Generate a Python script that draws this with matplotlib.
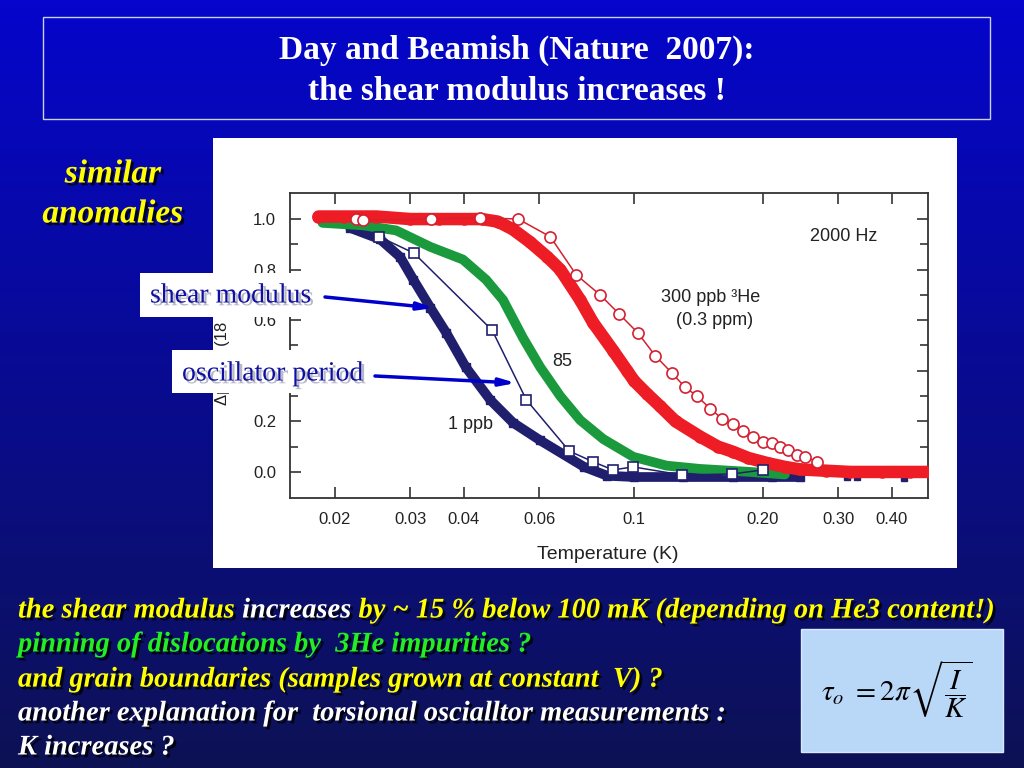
"""
Slide: Day and Beamish (Nature 2007) shear modulus anomaly
"""
import numpy as np
import matplotlib
matplotlib.use("Agg")
import matplotlib.pyplot as plt
import matplotlib.patheffects as pe
from matplotlib.patches import Rectangle

plt.rcParams['mathtext.fontset'] = 'stix'

#Data (temperature in K, normalised change)
red_T = [0.0183, 0.021, 0.025, 0.030, 0.035, 0.040, 0.044, 0.048, 0.052, 0.057,
         0.0627, 0.0672, 0.0748, 0.0802, 0.0893, 0.0963, 0.100, 0.107, 0.115, 0.125,
         0.1425, 0.157, 0.170, 0.185, 0.205, 0.225, 0.244, 0.28, 0.32, 0.38, 0.44, 0.49]
red_y = [1.01, 1.01, 1.01, 1.00, 1.00, 1.00, 1.00, 0.99, 0.96, 0.91,
         0.85, 0.80, 0.68, 0.59, 0.48, 0.40, 0.36, 0.31, 0.26, 0.20,
         0.14, 0.10, 0.08, 0.055, 0.035, 0.02, 0.01, 0.005, 0.0, 0.0, 0.0, 0.0]

green_T = [0.0187, 0.0233, 0.0278, 0.0334, 0.0398, 0.0451, 0.0494, 0.055, 0.0603,
           0.0672, 0.0748, 0.0847, 0.0995, 0.119, 0.1425, 0.187, 0.225]
green_y = [0.985, 0.975, 0.955, 0.89, 0.84, 0.76, 0.68, 0.53, 0.415,
           0.30, 0.205, 0.13, 0.06, 0.025, 0.012, 0.0, -0.01]

navy_T = [0.0217, 0.0255, 0.0284, 0.0305, 0.0334, 0.0364, 0.0404, 0.0461, 0.0521,
          0.0603, 0.0764, 0.0865, 0.100, 0.130, 0.170, 0.210, 0.244]
navy_y = [0.965, 0.92, 0.85, 0.76, 0.65, 0.55, 0.415, 0.285, 0.195,
          0.125, 0.02, -0.015, -0.02, -0.02, -0.02, -0.02, -0.02]
navy_tail_T = [0.315, 0.332, 0.426]
navy_tail_y = [-0.02, -0.02, -0.025]

#Oscillator period curves (open symbols)
circ_T = [0.0224, 0.0233, 0.0336, 0.0436, 0.0536, 0.0637, 0.0732, 0.0833, 0.0922,
          0.102, 0.112, 0.1227, 0.1315, 0.1403, 0.1506, 0.1606, 0.170, 0.180,
          0.190, 0.200, 0.210, 0.219, 0.229, 0.240, 0.251, 0.268]
circ_y = [1.00, 0.995, 1.00, 1.005, 1.00, 0.93, 0.78, 0.70, 0.625,
          0.55, 0.46, 0.39, 0.335, 0.30, 0.25, 0.21, 0.19, 0.16,
          0.14, 0.12, 0.115, 0.10, 0.087, 0.067, 0.06, 0.04]

sq_T = [0.0254, 0.0306, 0.0466, 0.056, 0.0705, 0.0802, 0.0893, 0.0995, 0.1294, 0.1694, 0.200]
sq_y = [0.93, 0.865, 0.56, 0.285, 0.083, 0.04, 0.008, 0.02, -0.012, -0.008, 0.008]

x_ticks = [0.02, 0.03, 0.04, 0.06, 0.1, 0.2, 0.3, 0.4]
x_ticklabels = ['0.02', '0.03', '0.04', '0.06', '0.1', '0.20', '0.30', '0.40']
y_ticks = [0.0, 0.2, 0.4, 0.6, 0.8, 1.0]

RED = '#ee1c24'
GREEN = '#1a9a3c'
NAVY = '#1f1f6e'
SERIF = 'Liberation Serif'
SANS = 'Liberation Sans'

fig = plt.figure(figsize=(10.24, 7.68), dpi=100)

#Background: blue gradient, title frame, white picture panel, formula box
bg = fig.add_axes([0, 0, 1, 1], zorder=0)
grad = np.linspace(0, 1, 256)[:, None]
top = np.array([0.02, 0.02, 0.80])
bot = np.array([0.05, 0.07, 0.33])
img = top[None, None, :] * (1 - grad[:, :, None]) + bot[None, None, :] * grad[:, :, None]
bg.imshow(img, aspect='auto', extent=(0, 1024, 768, 0))
bg.set_xlim(0, 1024)
bg.set_ylim(768, 0)
bg.axis('off')
bg.add_patch(Rectangle((43, 17), 947, 102, fill=False, ec='#c8d0f0', lw=1))
bg.add_patch(Rectangle((213, 138), 744, 430, fc='white', ec='none'))
bg.add_patch(Rectangle((801, 629), 202, 123, fc='#b9d7f7', ec='#d8e8ff', lw=1))

#The data plot
ax = fig.add_axes([290 / 1024, 1 - 498 / 768, 638 / 1024, 305 / 768], zorder=1)
ax.set_xscale('log')
ax.plot(navy_T, navy_y, color=NAVY, lw=7, marker='s', ms=6, solid_joinstyle='round',
        solid_capstyle='round', zorder=2)
ax.plot(navy_tail_T, navy_tail_y, ls='none', color=NAVY, marker='s', ms=5, zorder=2)
ax.plot(green_T, green_y, color=GREEN, lw=7, solid_joinstyle='round',
        solid_capstyle='round', zorder=3)
ax.plot(red_T, red_y, color=RED, lw=9, marker='o', ms=8, solid_joinstyle='round',
        solid_capstyle='round', zorder=4)
ax.plot(sq_T, sq_y, color=NAVY, lw=1.1, marker='s', ms=7, mfc='white', mec=NAVY,
        mew=1.2, zorder=5)
ax.plot(circ_T, circ_y, color='#d42030', lw=1.1, marker='o', ms=8, mfc='white',
        mec='#d42030', mew=1.2, zorder=6)

ax.set_xlim(0.0157, 0.486)
ax.set_ylim(-0.103, 1.103)
ax.set_xticks(x_ticks)
ax.set_xticklabels(x_ticklabels)
ax.minorticks_off()
ax.set_yticks(y_ticks)
ax.set_yticks(np.arange(0.1, 1.01, 0.2), minor=True)
ax.xaxis.set_minor_locator(matplotlib.ticker.NullLocator())
ax.tick_params(which='both', direction='in', top=True, right=True, color='#333333', width=1.2)
ax.tick_params(which='major', length=8, labelsize=12, labelcolor='#222222')
ax.tick_params(which='minor', length=6)
ax.tick_params(axis='x', pad=10)
ax.tick_params(axis='y', pad=10)
for lab in ax.get_xticklabels() + ax.get_yticklabels():
    lab.set_family(SANS)
for sp in ax.spines.values():
    sp.set_color('#333333')
    sp.set_linewidth(1.3)

ax.set_xlabel('Temperature (K)', family=SANS, fontsize=14, color='#222222')
ax.xaxis.set_label_coords(0.498, -0.158)
ax.set_ylabel('Δμ / Δμ (18 mK)', family=SANS, fontsize=12, color='#222222')
ax.yaxis.set_label_coords(-0.094, 0.5)

lab_kw = dict(family=SANS, fontsize=13, color='#222222', ha='center', va='center')
ax.text(0.308, 0.93, '2000 Hz', **lab_kw)
ax.text(0.151, 0.69, '300 ppb ³He', **lab_kw)
ax.text(0.154, 0.60, '(0.3 ppm)', **lab_kw)
ax.text(0.068, 0.435, '85', **lab_kw)
ax.text(0.0414, 0.186, '1 ppb', **lab_kw)

#Overlay in slide pixels: titles, labels, arrows, text
ov = fig.add_axes([0, 0, 1, 1], zorder=2)
ov.set_xlim(0, 1024)
ov.set_ylim(768, 0)
ov.axis('off')
ov.patch.set_alpha(0)

dark = [pe.withSimplePatchShadow(offset=(2, -2), shadow_rgbFace='black', alpha=0.8)]
light = [pe.withSimplePatchShadow(offset=(2, -2), shadow_rgbFace='#9a9ab0', alpha=0.7)]

ov.text(517, 50, 'Day and Beamish (Nature  2007):', family=SERIF, weight='bold',
        fontsize=24, color='white', ha='center', va='center')
ov.text(517, 92, 'the shear modulus increases !', family=SERIF, weight='bold',
        fontsize=24, color='white', ha='center', va='center')

for txt, y in [('similar', 174), ('anomalies', 214)]:
    ov.text(113, y, txt, family=SERIF, weight='bold', style='italic', fontsize=24,
            color='#ffff00', ha='center', va='center', path_effects=dark)

ov.add_patch(Rectangle((140, 273), 178, 44, fc='white', ec='none'))
ov.add_patch(Rectangle((172, 350), 198, 43, fc='white', ec='none'))
ov.text(150, 296, 'shear modulus', family=SERIF, fontsize=20, color='#1010a0',
        ha='left', va='center', path_effects=light)
ov.text(182, 374, 'oscillator period', family=SERIF, fontsize=20, color='#1010a0',
        ha='left', va='center', path_effects=light)
arrow = dict(arrowstyle='-|>,head_length=0.9,head_width=0.22', color='#0000cc',
             lw=2.5, shrinkA=0, shrinkB=0)
ov.annotate('', xy=(434, 308), xytext=(325, 297), arrowprops=arrow)
ov.annotate('', xy=(516, 383), xytext=(375, 376), arrowprops=arrow)

#Bottom lines
body = dict(family=SERIF, weight='bold', style='italic', fontsize=20.5, path_effects=dark)
prev = ov.text(18, 611, 'the shear modulus', color='#ffff00', va='center', **body)
for seg, col in [(' increases', 'white'),
                 (' by ~ 15 % below 100 mK (depending on He3 content!)', '#ffff00')]:
    prev = ov.annotate(seg, xy=(1, 0), xycoords=prev, ha='left', va='bottom',
                       color=col, **body)
ov.text(18, 645, 'pinning of dislocations by  3He impurities ?', color='#22ee22',
        va='center', **body)
ov.text(18, 680, 'and grain boundaries (samples grown at constant  V) ?', color='#ffff00',
        va='center', **body)
ov.text(18, 714, 'another explanation for  torsional oscialltor measurements :',
        color='white', va='center', **body)
ov.text(18, 748, 'K increases ?', color='white', va='center', **body)

ov.text(897, 690, r'$\tau_{o}\ = 2\pi\sqrt{\dfrac{I}{K}}$', fontsize=21, color='black',
        ha='center', va='center')

plt.savefig('out.png', dpi=100)
